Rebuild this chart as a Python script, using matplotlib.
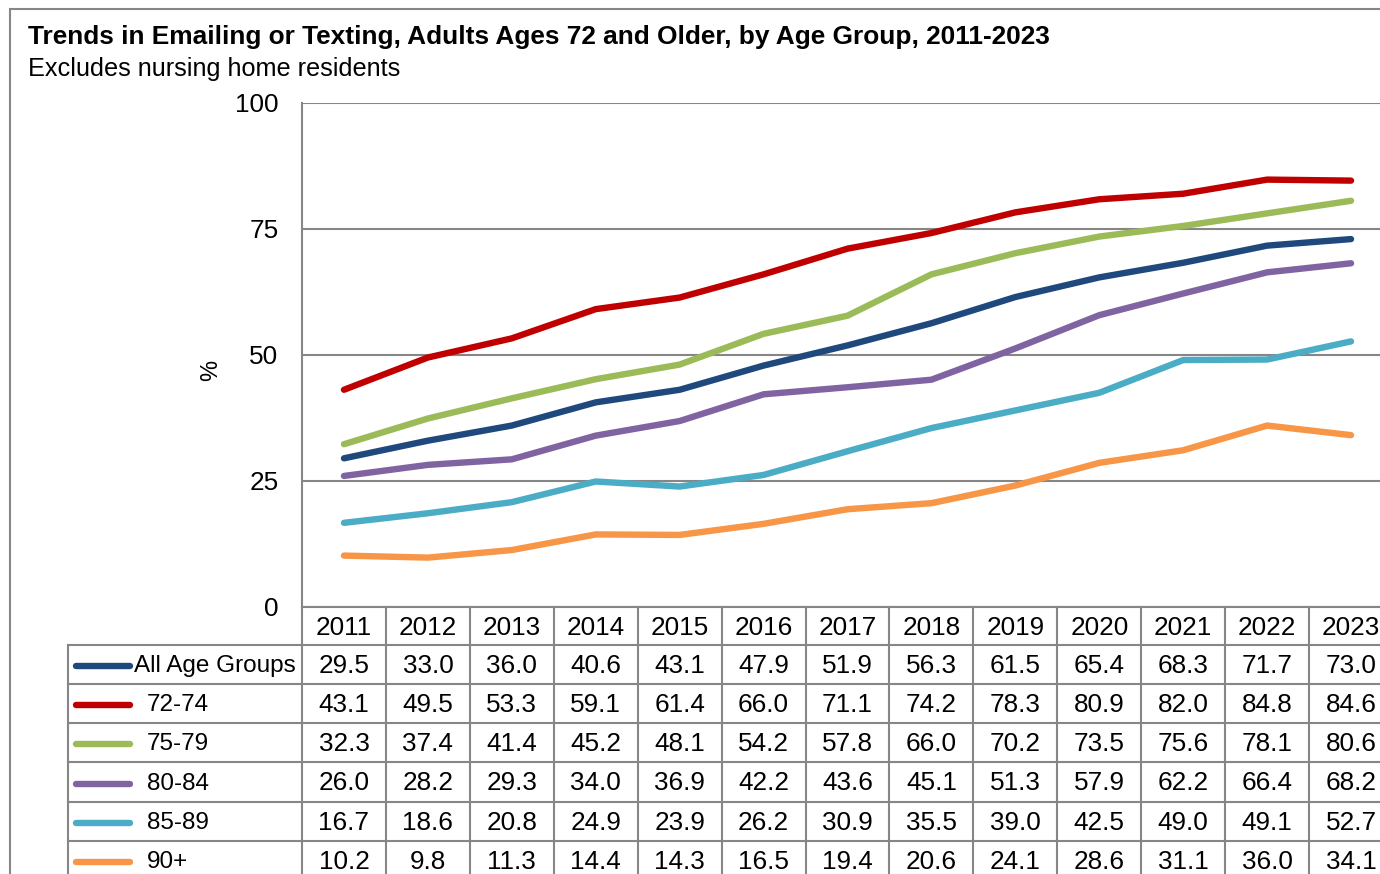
import matplotlib
matplotlib.use("Agg")
import matplotlib.pyplot as plt
import matplotlib.transforms as mtrans
from matplotlib.lines import Line2D
from matplotlib.patches import Rectangle

plt.rcParams['font.family'] = ['Liberation Sans', 'DejaVu Sans']

years = ['2011', '2012', '2013', '2014', '2015', '2016', '2017',
         '2018', '2019', '2020', '2021', '2022', '2023']
groups = ['All Age Groups', '72-74', '75-79', '80-84', '85-89', '90+']
all_ages = [29.5, 33.0, 36.0, 40.6, 43.1, 47.9, 51.9, 56.3, 61.5, 65.4, 68.3, 71.7, 73.0]
age_72_74 = [43.1, 49.5, 53.3, 59.1, 61.4, 66.0, 71.1, 74.2, 78.3, 80.9, 82.0, 84.8, 84.6]
age_75_79 = [32.3, 37.4, 41.4, 45.2, 48.1, 54.2, 57.8, 66.0, 70.2, 73.5, 75.6, 78.1, 80.6]
age_80_84 = [26.0, 28.2, 29.3, 34.0, 36.9, 42.2, 43.6, 45.1, 51.3, 57.9, 62.2, 66.4, 68.2]
age_85_89 = [16.7, 18.6, 20.8, 24.9, 23.9, 26.2, 30.9, 35.5, 39.0, 42.5, 49.0, 49.1, 52.7]
age_90p = [10.2, 9.8, 11.3, 14.4, 14.3, 16.5, 19.4, 20.6, 24.1, 28.6, 31.1, 36.0, 34.1]
series = [all_ages, age_72_74, age_75_79, age_80_84, age_85_89, age_90p]
colors = ['#1F497D', '#C00000', '#9BBB59', '#8064A2', '#4BACC6', '#F79646']

W, H = 1380, 874
fig = plt.figure(figsize=(W / 100, H / 100), dpi=100)


def fx(p):
    return p / W


def fy(p):
    return 1 - p / H


grid_c = '#868686'
num_fs = 18.8

# outer chart frame
fig.patches.append(Rectangle((fx(10), fy(900)), 2, fy(9) - fy(900),
                             transform=fig.transFigure, fill=False,
                             edgecolor=grid_c, lw=1.5))

ax = fig.add_axes([fx(302), fy(607), (1393 - 302) / W, (607 - 103) / H])
x = list(range(len(years)))
for vals, c in zip(series, colors):
    ax.plot(x, vals, color=c, lw=4.6, solid_capstyle='round', solid_joinstyle='round')

ax.set_xlim(-0.5, 12.5)
ax.set_ylim(0, 100)
ax.set_yticks([0, 25, 50, 75, 100])
ax.set_xticks([])
ax.yaxis.grid(True, color=grid_c, lw=1.5)
ax.set_axisbelow(True)
ax.tick_params(axis='y', length=0, pad=17, labelsize=num_fs)
for s in ['top', 'right']:
    ax.spines[s].set_visible(False)
for s in ['left', 'bottom']:
    ax.spines[s].set_color(grid_c)
    ax.spines[s].set_linewidth(1.5)

fig.text(fx(211), fy(370), '%', rotation=90, ha='center', va='center', fontsize=17)
fig.text(fx(28), fy(37), 'Trends in Emailing or Texting, Adults Ages 72 and Older, by Age Group, 2011-2023',
         fontsize=18.9, fontweight='bold', ha='left', va='center')
fig.text(fx(28), fy(69), 'Excludes nursing home residents', fontsize=18.2, ha='left', va='center')

# data table below the plot
tr = mtrans.blended_transform_factory(ax.transData, fig.transFigure)
row_edges = [607, 645, 684, 723, 762, 802, 841, 880]
for yv in row_edges[1:]:
    fig.lines.append(Line2D([fx(68), fx(1400)], [fy(yv), fy(yv)], transform=fig.transFigure,
                            color=grid_c, lw=1.5))
fig.lines.append(Line2D([fx(68), fx(68)], [fy(645), fy(900)], transform=fig.transFigure,
                        color=grid_c, lw=1.5))
for k in range(len(years) + 1):
    ax.add_line(Line2D([k - 0.5, k - 0.5], [fy(607), fy(900)], transform=tr,
                       color=grid_c, lw=1.5, clip_on=False))

for i, yr in enumerate(years):
    ax.text(i, fy(628), yr, transform=tr, ha='center', va='center', fontsize=num_fs, clip_on=False)

for r, (name, vals, c) in enumerate(zip(groups, series, colors)):
    yc = (row_edges[r + 1] + row_edges[r + 2]) / 2 + 1.5
    fig.lines.append(Line2D([fx(76), fx(130)], [fy(yc), fy(yc)], transform=fig.transFigure,
                            color=c, lw=4.6, solid_capstyle='round'))
    lx = 134 if r == 0 else 147
    fig.text(fx(lx), fy(yc), name, ha='left', va='center', fontsize=17.5)
    for i, v in enumerate(vals):
        ax.text(i, fy(yc), f'{v:.1f}', transform=tr, ha='center', va='center',
                fontsize=num_fs, clip_on=False)

fig.savefig('out.png', dpi=100)
